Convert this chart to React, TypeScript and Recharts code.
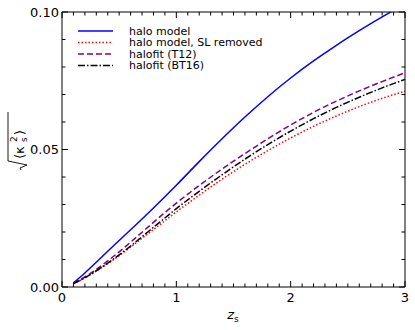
import { LineChart, Line, XAxis, YAxis, Legend } from "recharts";

// redshift grid
const Z = [0.1, 0.2, 0.3, 0.4, 0.5, 0.6, 0.7, 0.8, 0.9, 1.0, 1.2, 1.4, 1.6, 1.8, 2.0, 2.2, 2.4, 2.6, 2.8, 3.0];

const HALO = [0.0015, 0.0051, 0.009, 0.013, 0.0169, 0.0208, 0.0247, 0.0287, 0.0328, 0.037, 0.0456, 0.0539, 0.0618, 0.0692, 0.076, 0.0822, 0.0879, 0.0932, 0.0982, 0.1029];
const HALO_NOSL = [0.0012, 0.0033, 0.0058, 0.0085, 0.0114, 0.0145, 0.0177, 0.0209, 0.0241, 0.0273, 0.0334, 0.0392, 0.0446, 0.0496, 0.0542, 0.0584, 0.0622, 0.0656, 0.0686, 0.0712];
const T12 = [0.0013, 0.0037, 0.0064, 0.0095, 0.0128, 0.0163, 0.0199, 0.0235, 0.0271, 0.0305, 0.0369, 0.0429, 0.0485, 0.0539, 0.0589, 0.0635, 0.0676, 0.0713, 0.0747, 0.0779];
const BT16 = [0.0012, 0.0034, 0.0059, 0.0087, 0.0117, 0.0149, 0.0183, 0.0217, 0.0251, 0.0285, 0.0348, 0.0408, 0.0465, 0.0518, 0.0567, 0.0612, 0.0653, 0.069, 0.0724, 0.0755];

const X_TICKS = [0, 0.1, 0.2, 0.3, 0.4, 0.5, 0.6, 0.7, 0.8, 0.9, 1, 1.1, 1.2, 1.3, 1.4, 1.5, 1.6, 1.7, 1.8, 1.9, 2, 2.1, 2.2, 2.3, 2.4, 2.5, 2.6, 2.7, 2.8, 2.9, 3];
const Y_TICKS = [0, 0.01, 0.02, 0.03, 0.04, 0.05, 0.06, 0.07, 0.08, 0.09, 0.1];

const SERIES = [
  { key: "halo", name: "halo model", color: "#0000ff", dash: undefined },
  { key: "nosl", name: "halo model, SL removed", color: "#ff0000", dash: "1.5 2" },
  { key: "t12", name: "halofit (T12)", color: "#800080", dash: "6 3" },
  { key: "bt16", name: "halofit (BT16)", color: "#000000", dash: "7 2 1.5 2" },
];

const data = Z.map((z, i) => ({ z, halo: HALO[i], nosl: HALO_NOSL[i], t12: T12[i], bt16: BT16[i] }));

const FONT = "DejaVu Sans";

const isMajor = (v: number, step: number) => Math.abs(v / step - Math.round(v / step)) < 1e-6;

const BottomTick = (props: any) => {
  const { x, y, payload } = props;
  const major = isMajor(payload.value, 1);
  return (
    <g>
      <line x1={x} x2={x} y1={y} y2={y - (major ? 6 : 3.5)} stroke="#000" />
      {major && (
        <text x={x} y={y + 10} dy="0.35em" textAnchor="middle" fontSize={13} fontFamily={FONT} fill="#000">
          {payload.value}
        </text>
      )}
    </g>
  );
};

const TopTick = (props: any) => {
  const { x, y, payload } = props;
  const major = isMajor(payload.value, 1);
  return <line x1={x} x2={x} y1={y} y2={y + (major ? 6 : 3.5)} stroke="#000" />;
};

const LeftTick = (props: any) => {
  const { x, y, payload } = props;
  const major = isMajor(payload.value, 0.05);
  return (
    <g>
      <line x1={x} x2={x + (major ? 6 : 3.5)} y1={y} y2={y} stroke="#000" />
      {major && (
        <text x={x - 3} y={y} dy="0.35em" textAnchor="end" fontSize={13} fontFamily={FONT} fill="#000">
          {payload.value.toFixed(2)}
        </text>
      )}
    </g>
  );
};

const RightTick = (props: any) => {
  const { x, y, payload } = props;
  const major = isMajor(payload.value, 0.05);
  return <line x1={x} x2={x - (major ? 6 : 3.5)} y1={y} y2={y} stroke="#000" />;
};

const XLabel = () => (
  <text x={233} y={319} fontSize={13} fontFamily={FONT} fill="#000" textAnchor="middle">
    <tspan fontStyle="italic">z</tspan>
    <tspan fontSize={9} dy={3}>s</tspan>
  </text>
);

const YLabel = () => (
  <g transform="translate(20,141) rotate(-90)" fontFamily={FONT} fill="#000">
    <path d="M -29 1 L -27 0 L -24 7 L -20 -12 L 29 -12" fill="none" stroke="#000" strokeWidth={0.9} />
    <text x={-18} y={4} fontSize={13}>⟨κ</text>
    <text x={-1} y={7} fontSize={9}>s</text>
    <text x={-1} y={-3} fontSize={9}>2</text>
    <text x={6} y={4} fontSize={13}>⟩</text>
  </g>
);

const renderLegend = () => (
  <svg width={230} height={50} style={{ display: "block" }}>
    {SERIES.map((s, i) => {
      const y = 6 + i * 11.5;
      return (
        <g key={s.key}>
          <line x1={0} x2={35} y1={y} y2={y} stroke={s.color} strokeWidth={1.5} strokeDasharray={s.dash} />
          <text x={51} y={y} dy="0.35em" fontSize={11} fontFamily={FONT} fill="#000">
            {s.name}
          </text>
        </g>
      );
    })}
  </svg>
);

export default function App() {
  return (
    <div style={{ position: "absolute", left: 0, top: 0, background: "#fff" }}>
      <LineChart width={415} height={330} data={data} margin={{ top: 1, right: 0, bottom: 0, left: 0 }} style={{ fontFamily: FONT }}>
        <XAxis
          dataKey="z"
          type="number"
          domain={[0, 3]}
          ticks={X_TICKS}
          interval={0}
          tick={<BottomTick />}
          tickLine={false}
          tickSize={0}
          tickMargin={0}
          height={43}
          axisLine={{ stroke: "#000" }}
          label={<XLabel />}
        />
        <XAxis
          xAxisId="top"
          orientation="top"
          dataKey="z"
          type="number"
          domain={[0, 3]}
          ticks={X_TICKS}
          interval={0}
          tick={<TopTick />}
          tickLine={false}
          tickSize={0}
          tickMargin={0}
          height={11}
          axisLine={{ stroke: "#000" }}
        />
        <YAxis
          type="number"
          domain={[0, 0.1]}
          allowDataOverflow
          ticks={Y_TICKS}
          interval={0}
          tick={<LeftTick />}
          tickLine={false}
          tickSize={0}
          tickMargin={0}
          width={62}
          axisLine={{ stroke: "#000" }}
          label={<YLabel />}
        />
        <YAxis
          yAxisId="right"
          orientation="right"
          type="number"
          domain={[0, 0.1]}
          allowDataOverflow
          ticks={Y_TICKS}
          interval={0}
          tick={<RightTick />}
          tickLine={false}
          tickSize={0}
          tickMargin={0}
          width={10}
          axisLine={{ stroke: "#000" }}
        />
        {SERIES.map((s) => (
          <Line
            key={s.key}
            dataKey={s.key}
            name={s.name}
            type="monotone"
            stroke={s.color}
            strokeWidth={1.5}
            strokeDasharray={s.dash}
            dot={false}
            isAnimationActive={false}
          />
        ))}
        <Legend
          layout="vertical"
          align="center"
          verticalAlign="middle"
          content={renderLegend}
          wrapperStyle={{ left: 78, top: 25, width: 230 }}
        />
      </LineChart>
    </div>
  );
}
